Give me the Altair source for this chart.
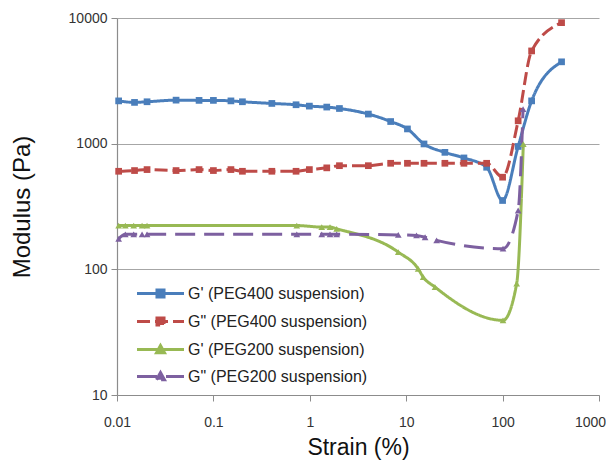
import altair as alt
import pandas as pd

# ---- data ----
series_names = ["G' (PEG400 suspension)", 'G" (PEG400 suspension)',
                "G' (PEG200 suspension)", 'G" (PEG200 suspension)']
colors = ["#4A7EBB", "#BE4B48", "#98B954", "#7D60A0"]

strain_peg400 = [0.0104, 0.0152, 0.0205, 0.041, 0.071, 0.100, 0.152, 0.200, 0.404, 0.72,
                 0.99, 1.50, 2.03, 4.05, 6.9, 10.3, 15.3, 25.2, 39.7, 68.3,
                 100, 145, 200, 409]
gp_peg400 = [2190, 2130, 2155, 2220, 2210, 2210, 2190, 2155, 2090, 2040,
             1990, 1955, 1905, 1720, 1500, 1310, 995, 853, 770, 649,
             353, 950, 2190, 4480]
gpp_peg400 = [603, 611, 622, 611, 622, 611, 622, 603, 603, 603,
              622, 642, 668, 668, 698, 698, 698, 698, 698, 698,
              541, 1520, 5470, 9180]

strain_peg200 = [0.0104, 0.0122, 0.0149, 0.0182, 0.0205, 0.733, 1.33, 1.62, 1.90,
                 8.28, 13.3, 15.0, 19.9, 101, 140, 164]
gp_peg200 = [223, 223, 223, 223, 223, 223, 217, 217, 210,
             137, 101, 86.8, 72.3, 39.3, 77, 990]
strain_peg200_b = [0.0104, 0.0122, 0.0149, 0.0182, 0.0205, 0.733, 1.33, 1.62, 1.90,
                   8.28, 12.8, 15.7, 20.7, 101, 145, 163]
gpp_peg200 = [175, 190, 190, 190, 190, 190, 190, 190, 190,
              188, 186, 180, 170, 146, 294, 1880]

x_ticks = [0.01, 0.1, 1, 10, 100, 1000]
y_ticks = [10, 100, 1000, 10000]

rows = []
for name, xs, ys in [(series_names[0], strain_peg400, gp_peg400),
                     (series_names[1], strain_peg400, gpp_peg400),
                     (series_names[2], strain_peg200, gp_peg200),
                     (series_names[3], strain_peg200_b, gpp_peg200)]:
    for xv, yv in zip(xs, ys):
        rows.append({"strain": xv, "modulus": yv, "series": name})
df = pd.DataFrame(rows)
legend_df = pd.DataFrame({"series": series_names, "strain": [1] * 4, "modulus": [100] * 4})

dashes = [[1, 0], [13, 5], [1, 0], [20, 9]]
FONT = "Liberation Sans"

x_enc = alt.X("strain:Q",
              scale=alt.Scale(type="log", domain=[0.01, 1000], nice=False),
              axis=alt.Axis(values=x_ticks, labelExpr="'' + datum.value", grid=False,
                            title="Strain (%)", tickSize=6, labelPadding=14,
                            titlePadding=7, titleFontSize=23,
                            labelFlush=False, labelOverlap=False,
                            labelOffset=alt.ExprRef(expr="datum.value >= 1000 ? -9 : 0")))
y_enc = alt.Y("modulus:Q",
              scale=alt.Scale(type="log", domain=[10, 10000], nice=False),
              axis=alt.Axis(values=y_ticks, labelExpr="'' + datum.value", grid=True,
                            title="Modulus (Pa)", tickSize=6, labelPadding=4,
                            titlePadding=34, labelFlush=False, labelOverlap=False))

sc_color = alt.Scale(domain=series_names, range=colors)
sc_dash = alt.Scale(domain=series_names, range=dashes)

lines = alt.Chart(df).mark_line(interpolate="monotone", strokeWidth=3).encode(
    x=x_enc, y=y_enc,
    color=alt.Color("series:N", scale=sc_color, legend=None),
    strokeDash=alt.StrokeDash("series:N", scale=sc_dash, legend=None),
    detail="series:N",
)

points = alt.Chart(df).mark_point(filled=True, size=45, opacity=1).encode(
    x=x_enc, y=y_enc,
    color=alt.Color("series:N", scale=sc_color, legend=None),
    shape=alt.Shape("series:N", scale=alt.Scale(domain=series_names,
                    range=["square", "square", "triangle-up", "triangle-up"]), legend=None),
)

sq = "M-2,0H2M-0.3,-0.3H0.3V0.3H-0.3Z"
tri = "M-2,0H2M-0.34,0.28L0,-0.34L0.34,0.28Z"
legend_layer = alt.Chart(legend_df).mark_point(opacity=0, strokeWidth=3).encode(
    x=alt.X("strain:Q", scale=alt.Scale(type="log", domain=[0.01, 1000], nice=False)),
    y=alt.Y("modulus:Q", scale=alt.Scale(type="log", domain=[10, 10000], nice=False)),
    fill=alt.Fill("series:N", scale=sc_color, legend=alt.Legend(title=None)),
    stroke=alt.Stroke("series:N", scale=sc_color, legend=alt.Legend(title=None)),
    strokeDash=alt.StrokeDash("series:N", scale=sc_dash, legend=alt.Legend(title=None)),
    shape=alt.Shape("series:N", scale=alt.Scale(domain=series_names, range=[sq, sq, tri, tri]),
                    legend=alt.Legend(title=None)),
    size=alt.value(552),
)

chart = alt.layer(lines, points, legend_layer).resolve_scale(
    color="independent", shape="independent", strokeDash="independent",
    fill="independent", stroke="independent"
).properties(
    width=482, height=377,
    autosize=alt.AutoSizeParams(type="none"),
    padding={"left": 109, "top": 10, "right": 7, "bottom": 65},
).configure_view(stroke=None).configure_axis(
    labelFont=FONT, titleFont=FONT, labelFontSize=14, titleFontSize=24,
    labelColor="#333333", titleColor="#111111", titleFontWeight="normal",
    domainColor="#8c8c8c", tickColor="#8c8c8c", gridColor="#a6a6a6",
    domainWidth=1.2, gridWidth=1.2,
).configure_legend(
    orient="none", legendX=30, legendY=262, labelFont=FONT, labelFontSize=16,
    labelColor="#222222", symbolOpacity=1, symbolStrokeWidth=3, rowPadding=4,
    labelOffset=14, symbolSize=552, labelLimit=400,
)

chart.save("out.html", embed_options={"renderer": "svg", "actions": False})
